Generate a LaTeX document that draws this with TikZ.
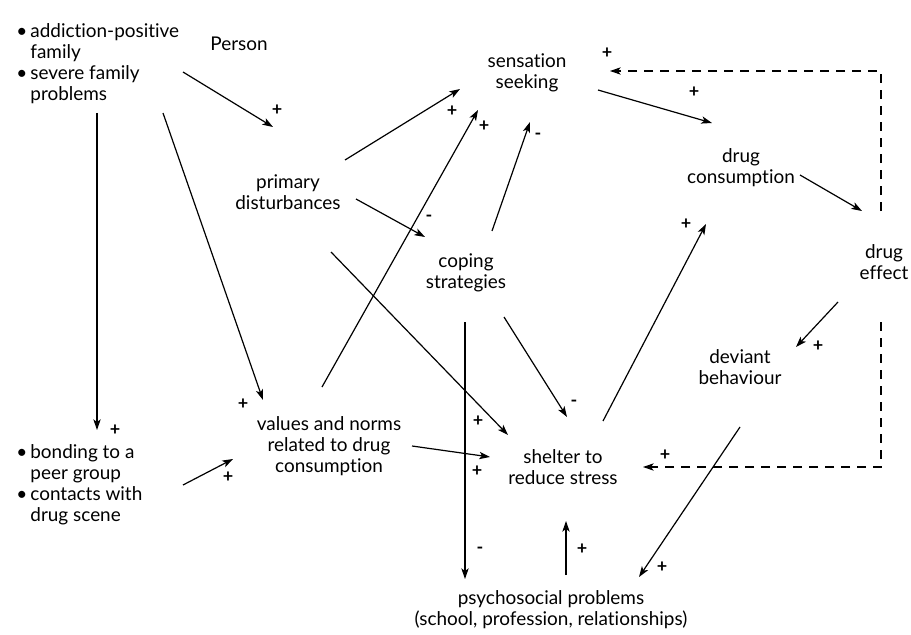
\documentclass[tikz,border=0pt]{standalone}
\usepackage{fontspec}
\setmainfont{Lato}[Ligatures=NoCommon]
\usetikzlibrary{arrows.meta}
\begin{document}
\begin{tikzpicture}[x=0.75pt,y=-0.75pt,
  lbl/.style={font=\fontsize{14.2}{15.75}\selectfont, align=center, inner sep=0pt},
  lst/.style={font=\fontsize{14.2}{15.75}\selectfont, align=left, inner sep=0pt, anchor=west},
  sgn/.style={font=\fontsize{13.5}{13.5}\selectfont\bfseries, inner sep=0pt},
  arr/.style={-{Stealth[length=8pt,width=5.5pt,inset=2pt]}, line width=0.9pt},
  dsh/.style={arr, line width=0.8pt, dash pattern=on 7pt off 5pt}]
\useasboundingbox (0,0) rectangle (911,635);
\fill[white] (0,0) rectangle (911,635);

% text nodes
\node[lst] (fam) at (16,64) {\textbullet\,addiction-positive\\\hphantom{\textbullet\,}family\\\textbullet\,severe family\\\hphantom{\textbullet\,}problems};
\node[lst] (peer) at (16,485) {\textbullet\,bonding to a\\\hphantom{\textbullet\,}peer group\\\textbullet\,contacts with\\\hphantom{\textbullet\,}drug scene};
\node[lbl] (person) at (239,44) {Person};
\node[lbl] (prim) at (288,192) {primary\\disturbances};
\node[lbl] (sens) at (527,73) {sensation\\seeking};
\node[lbl] (cons) at (741,168) {drug\\consumption};
\node[lbl] (eff) at (884,262) {drug\\effect};
\node[lbl] (cope) at (466,273) {coping\\strategies};
\node[lbl] (vals) at (329,446) {values and norms\\related to drug\\consumption};
\node[lbl] (shel) at (563,467) {shelter to\\reduce stress};
\node[lbl] (dev) at (740,367) {deviant\\behaviour};
\node[lbl] (psy) at (551,610) {psychosocial problems\\(school, profession, relationships)};

% arrow end points
\coordinate (a1s) at (183,72);  \coordinate (a1e) at (273,127);
\coordinate (a2s) at (97,113);  \coordinate (a2e) at (97,430);
\coordinate (a3s) at (163,113); \coordinate (a3e) at (263,400);
\coordinate (a4s) at (183,485); \coordinate (a4e) at (233,459);
\coordinate (a5s) at (345,160); \coordinate (a5e) at (460,89);
\coordinate (a6s) at (322,387); \coordinate (a6e) at (478,110);
\coordinate (a7s) at (492,231); \coordinate (a7e) at (530,122);
\coordinate (a8s) at (356,199); \coordinate (a8e) at (425,237);
\coordinate (a9s) at (331,252); \coordinate (a9e) at (508,435);
\coordinate (a10s) at (504,317); \coordinate (a10e) at (567,417);
\coordinate (a11s) at (465,322); \coordinate (a11e) at (465,579);
\coordinate (a12s) at (412,446); \coordinate (a12e) at (490,457);
\coordinate (a13s) at (603,421); \coordinate (a13e) at (706,224);
\coordinate (a14s) at (598,90);  \coordinate (a14e) at (712,123);
\coordinate (a15s) at (800,175); \coordinate (a15e) at (862,211);
\coordinate (a17s) at (838,302); \coordinate (a17e) at (796,347);
\coordinate (a19s) at (740,427); \coordinate (a19e) at (639,577);
\coordinate (a20s) at (566,575); \coordinate (a20e) at (566,521);
\coordinate (d1s) at (881,211); \coordinate (d1c) at (881,71); \coordinate (d1e) at (610,71);
\coordinate (d2s) at (881,322); \coordinate (d2c) at (881,467); \coordinate (d2e) at (643,467);

\draw[arr] (a1s) -- (a1e);
\draw[arr] (a2s) -- (a2e);
\draw[arr] (a3s) -- (a3e);
\draw[arr] (a4s) -- (a4e);
\draw[arr] (a5s) -- (a5e);
\draw[arr] (a6s) -- (a6e);
\draw[arr] (a7s) -- (a7e);
\draw[arr] (a8s) -- (a8e);
\draw[arr] (a9s) -- (a9e);
\draw[arr] (a10s) -- (a10e);
\draw[arr] (a11s) -- (a11e);
\draw[arr] (a12s) -- (a12e);
\draw[arr] (a13s) -- (a13e);
\draw[arr] (a14s) -- (a14e);
\draw[arr] (a15s) -- (a15e);
\draw[arr] (a17s) -- (a17e);
\draw[arr] (a19s) -- (a19e);
\draw[arr] (a20s) -- (a20e);
\draw[dsh] (d1s) -- (d1c) -- (d1e);
\draw[dsh] (d2s) -- (d2c) -- (d2e);

% signs
\node[sgn] (s1) at (277,110) {+};
\node[sgn] (s2) at (115,430) {+};
\node[sgn] (s3) at (243,404) {+};
\node[sgn] (s4) at (228,477) {+};
\node[sgn] (s5) at (452,111) {+};
\node[sgn] (s6) at (484,126) {+};
\node[sgn] (s7) at (538,136) {-};
\node[sgn] (s8) at (429,218) {-};
\node[sgn] (s9) at (478,421) {+};
\node[sgn] (s10) at (574,403) {-};
\node[sgn] (s11) at (480,550) {-};
\node[sgn] (s12) at (477,471) {+};
\node[sgn] (s13) at (686,224) {+};
\node[sgn] (s14) at (694,92) {+};
\node[sgn] (s16) at (607,53) {+};
\node[sgn] (s17) at (818,346) {+};
\node[sgn] (s18) at (665,455) {+};
\node[sgn] (s19) at (662,567) {+};
\node[sgn] (s20) at (582,549) {+};
\end{tikzpicture}
\end{document}
